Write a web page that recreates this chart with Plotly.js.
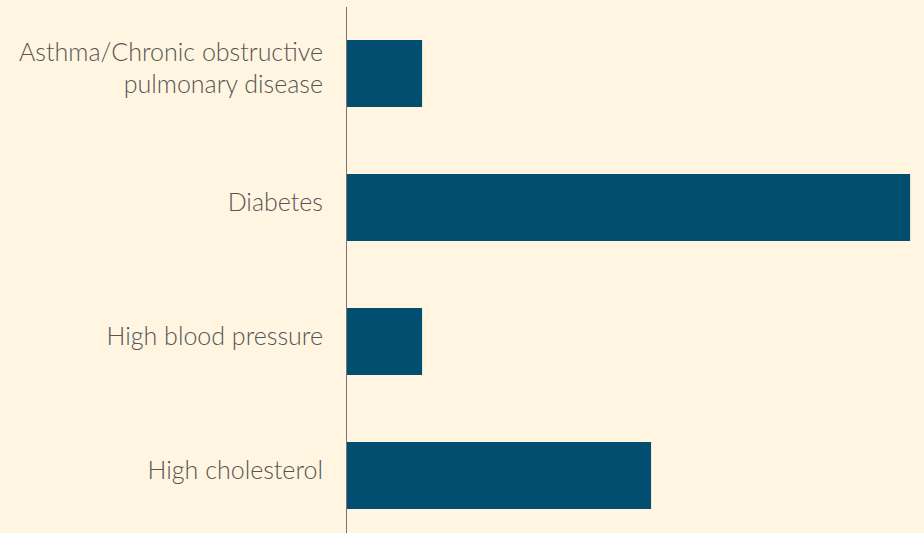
<!DOCTYPE html>
<html><head><meta charset="utf-8">
<script src="https://cdn.plot.ly/plotly-3.0.1.min.js"></script>
<style>html,body{margin:0;padding:0;background:#FFF5E1;}</style>
</head><body>
<div id="chart" style="width:924px;height:533px;"></div>
<script>
const categories = ["Asthma/Chronic obstructive<br>pulmonary disease", "Diabetes", "High blood pressure", "High cholesterol"];
const values = [2, 15, 2, 8.1];

Plotly.newPlot("chart", [{
  type: "bar", orientation: "h",
  y: categories, x: values,
  width: 0.5,
  marker: {color: "#024E71"},
  hoverinfo: "none"
}], {
  width: 924, height: 533,
  paper_bgcolor: "#FFF5E1", plot_bgcolor: "#FFF5E1",
  margin: {l: 347, r: 0, t: 7, b: 0},
  showlegend: false,
  xaxis: {range: [0, 15.37], showgrid: false, zeroline: false, showticklabels: false, showline: false, ticks: ""},
  yaxis: {range: [3.429, -0.496], showgrid: false, zeroline: false, showline: true, linecolor: "#777", linewidth: 1,
          ticks: "", ticklabelstandoff: 18, ticklabelshift: 5,
          tickfont: {family: "Lato, sans-serif", size: 25, color: "#555", weight: 300}}
}, {displayModeBar: false, staticPlot: true});
</script>
</body></html>
